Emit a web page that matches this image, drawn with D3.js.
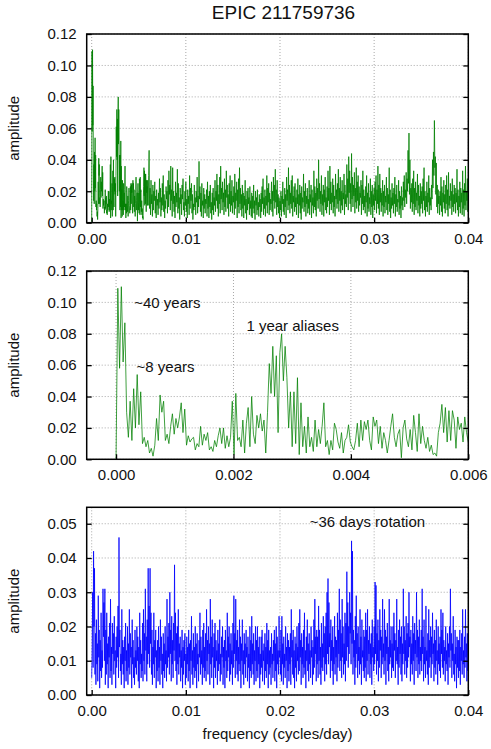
<!DOCTYPE html>
<html lang="en">
<head>
<meta charset="UTF-8">
<title>EPIC 211759736</title>
<script src="https://d3js.org/d3.v7.min.js"></script>
<style>
  body { margin: 0; background: #fff; }
  svg text { font-family: "Liberation Sans", Arial, Helvetica, sans-serif; fill: #111; }
</style>
</head>
<body>
<div id="container"></div>
<script>
const AMP_UNIT = 0.001;

// low-frequency part (0 .. 0.006 c/d), one value every 0.00003 c/d
const LOW_STEP = 0.00003;
const lowAmp = [
  0,109,58,110,62,87,30,14,37,12,
  45,20,54,22,43,10,14,8,12,4,
  7,2,9,26,12,41,30,37,12,16,
  10,21,29,16,26,20,27,36,17,32,
  9,15,11,13,14,6,10,8,21,9,
  16,12,17,6,8,5,12,8,15,20,
  10,20,7,15,8,14,37,3,42,12,
  14,8,25,4,23,33,8,40,16,10,
  28,20,29,18,25,4,30,61,42,72,
  40,66,17,68,80,50,72,52,20,43,
  8,43,10,52,3,36,8,21,4,27,
  8,14,5,25,8,19,10,21,36,8,
  12,3,12,6,23,19,11,7,17,4,
  12,14,22,11,8,6,12,23,8,25,
  12,24,19,25,12,6,27,21,25,10,
  21,7,17,12,4,12,21,29,14,8,
  16,19,1,20,25,13,8,19,6,28,
  17,5,29,10,21,12,7,14,5,9,
  3,4,2,17,23,35,17,33,11,31,
  12,31,25,7,27,19,23,11,27,17,11
];

// rest of the green spectrum (0.00605 .. 0.0400 c/d), one value every 0.00005 c/d
const HIGH_START = 0.00605;
const STEP = 0.00005;
const highAmp = [
  30,46,9,22,5,27,12,18,4,24,
  8,20,14,26,6,17,3,21,11,15,
  5,19,9,28,13,22,4,16,8,25,
  11,30,7,18,3,14,9,23,15,20,
  6,27,10,33,18,24,8,36,14,21,
  4,35,12,20,7,17,3,26,10,19,
  13,34,6,25,9,16,2,22,12,18,
  5,24,15,28,8,13,4,20,11,26,
  7,15,3,21,12,17,5,30,9,22,
  14,25,6,18,2,12,8,24,10,16,
  5,20,13,29,6,17,10,39,15,23,
  7,19,4,25,11,14,3,22,9,18,
  6,15,12,21,4,26,9,17,3,20,
  10,24,6,13,2,19,8,22,5,16,
  11,27,7,20,14,31,9,24,4,18,
  12,29,6,36,15,22,8,26,13,19,
  5,28,10,21,7,33,16,24,9,18,
  4,25,12,30,7,20,11,27,6,17,
  13,23,5,31,9,19,14,26,3,21,
  10,28,6,35,12,22,8,18,4,24,
  9,19,3,17,11,27,6,15,2,20,
  8,22,12,16,5,23,9,14,4,19,
  3,17,9,24,6,14,2,20,11,16,
  5,21,8,13,4,18,10,15,3,19,
  7,23,12,28,5,16,9,21,4,17,
  11,30,6,22,13,25,5,19,8,15,
  12,26,7,20,4,29,14,24,9,34,
  13,21,5,27,10,18,6,16,3,14,
  8,20,4,17,12,26,7,15,5,22,
  10,18,3,29,14,21,8,35,11,24,
  6,19,12,27,9,30,4,17,13,23,
  7,25,10,16,5,21,12,28,3,18,
  11,24,6,19,2,23,9,16,13,31,
  7,20,10,25,4,17,12,22,6,15,
  9,27,5,18,13,24,3,21,11,16,
  6,33,10,23,8,19,4,28,14,22,
  9,40,15,25,7,20,12,30,5,18,
  11,24,4,21,13,29,8,16,6,23,
  10,33,14,22,5,36,12,26,8,19,
  13,28,6,24,10,17,4,31,15,21,
  9,25,12,34,7,22,14,29,6,20,
  11,27,8,19,15,31,5,24,12,18,
  10,37,16,28,8,42,19,33,12,25,
  7,44,15,29,10,24,17,32,6,22,
  13,35,9,26,14,30,7,23,11,19,
  16,27,5,24,12,33,8,21,10,17,
  6,23,13,30,4,19,9,25,7,16,
  12,28,5,20,10,24,3,18,11,22,
  8,26,14,30,6,21,12,36,9,24,
  5,31,13,22,7,19,11,27,4,20,
  10,24,6,17,13,29,8,22,5,18,
  12,35,7,21,3,16,9,25,11,19,
  6,22,12,29,4,18,10,24,7,15,
  13,27,5,20,9,17,3,23,11,16,
  8,26,14,30,10,21,16,32,12,28,
  20,46,25,57,18,40,9,22,13,25,
  7,28,12,33,5,22,10,26,8,19,
  14,31,6,24,11,17,4,25,9,20,
  12,23,6,28,14,35,8,20,4,17,
  10,26,7,19,13,30,5,22,11,16,
  8,24,15,40,22,45,30,65,35,42,
  18,38,10,24,6,21,12,17,5,20,
  11,29,7,23,4,19,13,27,9,18,
  6,24,12,30,8,21,4,32,11,17,
  9,25,14,20,5,28,10,18,7,24,
  12,22,6,19,13,34,8,21,4,17,
  10,26,6,22,13,19,5,33,9,21,
  4,25,11,36,8,20,14,28,7,18
];

// blue spectrum (0 .. 0.04 c/d), one value every 0.00005 c/d
const rotAmp = [
  5,14,30,8,42,20,37,6,18,3,
  22,9,15,4,29,11,19,2,16,7,
  24,5,13,8,31,17,27,10,31,3,
  19,6,24,9,15,2,17,11,21,5,
  28,7,14,3,21,12,18,6,23,10,
  13,2,17,8,20,11,26,5,46,14,
  19,7,12,3,25,9,16,6,14,2,
  17,10,21,4,13,7,20,3,15,8,
  25,6,18,11,14,2,22,9,16,5,
  11,3,19,8,13,6,20,10,17,4,
  14,2,24,9,16,5,12,7,21,4,
  25,10,18,6,31,13,17,4,22,9,
  37,12,26,8,37,15,24,6,19,3,
  14,9,24,5,16,11,19,2,13,7,
  16,4,20,8,14,3,22,10,17,6,
  12,2,18,7,15,5,20,9,13,4,
  28,8,17,11,21,6,30,12,19,4,
  23,9,16,5,21,13,38,10,24,7,
  18,3,20,9,25,6,15,11,17,4,
  13,8,19,2,14,6,16,10,18,3,
  12,5,17,9,14,4,19,7,15,2,
  16,10,23,6,13,3,18,8,14,5,
  20,7,15,2,18,9,12,4,16,11,
  24,6,17,9,13,3,19,8,21,5,
  14,7,18,4,25,10,16,6,20,12,
  15,3,28,9,17,5,22,11,14,2,
  18,8,21,5,16,10,13,3,19,7,
  15,9,22,4,12,6,17,11,20,3,
  14,8,16,2,19,10,13,5,24,7,
  17,11,20,4,15,6,18,9,13,3,
  21,8,29,12,18,5,28,10,16,6,
  19,4,14,9,22,7,17,2,15,10,
  22,6,13,3,18,9,15,5,19,11,
  14,4,17,8,12,2,20,7,16,5,
  23,9,15,6,18,3,13,10,20,4,
  16,7,20,5,14,9,17,2,12,6,
  17,8,19,4,13,10,15,3,18,7,
  14,5,21,9,16,2,19,6,13,8,
  14,3,18,9,12,5,16,10,19,4,
  15,7,20,2,17,9,13,6,23,11,
  13,6,19,4,23,9,15,3,17,8,
  12,5,20,10,14,2,18,7,16,4,
  14,9,18,3,25,11,16,6,19,5,
  13,2,17,8,15,4,20,10,14,6,
  21,7,25,11,16,3,18,9,14,5,
  19,8,24,6,13,2,17,10,22,7,
  15,4,18,9,13,5,20,11,16,3,
  14,6,22,8,28,12,17,4,19,9,
  17,5,26,10,19,6,14,3,21,8,
  15,7,23,11,18,4,20,9,24,6,
  30,12,34,9,27,14,18,5,22,10,
  16,7,20,3,14,9,23,6,17,11,
  16,4,24,8,19,12,31,7,22,10,
  18,5,28,11,20,6,15,9,24,4,
  21,10,36,14,27,8,20,12,30,18,
  24,9,45,15,42,6,19,11,16,3,
  23,8,29,12,18,5,20,10,14,6,
  25,9,17,3,22,11,13,7,19,5,
  17,8,24,4,19,10,25,6,16,12,
  20,5,15,9,18,3,22,11,14,7,
  20,9,33,12,32,6,18,10,22,4,
  16,8,25,13,19,5,17,9,28,11,
  15,6,25,10,19,3,17,12,21,7,
  14,4,28,9,16,11,20,5,15,8,
  20,7,24,13,18,5,16,10,28,9,
  14,3,19,8,22,12,17,6,20,4,
  15,9,31,12,20,6,16,10,23,5,
  18,8,21,11,30,14,17,4,19,9,
  15,6,23,10,18,3,21,12,16,7,
  30,11,19,5,17,9,22,6,14,10,
  19,7,31,12,17,4,22,9,14,5,
  26,10,13,6,18,3,25,8,16,11,
  20,5,17,9,24,12,15,4,19,8,
  16,6,22,10,13,3,20,9,15,7,
  17,5,25,12,19,8,24,6,16,10,
  14,4,20,9,13,7,18,3,15,11,
  20,8,31,13,18,5,15,10,23,6,
  12,4,19,9,14,2,17,8,16,5,
  16,7,19,3,14,10,18,6,25,9,
  13,5,17,8,25,11,15,4,18,7,
  11
];

const wideTicks = [0, 0.01, 0.02, 0.03, 0.04];
const zoomTicks = [0, 0.002, 0.004, 0.006];
const ampTicks = [0, 0.02, 0.04, 0.06, 0.08, 0.10, 0.12];
const rotTicks = [0, 0.01, 0.02, 0.03, 0.04, 0.05];

const lowSeries = lowAmp.map((a, i) => ({ f: i * LOW_STEP, a: a * AMP_UNIT }));
const highSeries = highAmp.map((a, i) => ({ f: HIGH_START + i * STEP, a: a * AMP_UNIT }));
const rotSeries = rotAmp.map((a, i) => ({ f: i * STEP, a: a * AMP_UNIT }));

const width = 491, height = 749;
const left = 86.7, right = 468.3;

const svg = d3.select("#container").append("svg")
  .attr("width", width)
  .attr("height", height);

svg.append("text")
  .attr("x", 283.5)
  .attr("y", 18.5)
  .attr("text-anchor", "middle")
  .style("font-size", "19px")
  .text("EPIC 211759736");

function drawPanel(p, idx) {
  const x = d3.scaleLinear().domain(p.xDomain).range([left, right]);
  const y = d3.scaleLinear().domain(p.yDomain).range([p.bottom, p.top]);
  const g = svg.append("g");

  // dotted grid
  g.selectAll(".gx").data(p.xTicks).join("line")
    .attr("x1", d => x(d)).attr("x2", d => x(d))
    .attr("y1", p.top).attr("y2", p.bottom)
    .attr("stroke", "#a8a8a8").attr("stroke-dasharray", "1,2");
  g.selectAll(".gy").data(p.yTicks).join("line")
    .attr("x1", left).attr("x2", right)
    .attr("y1", d => y(d)).attr("y2", d => y(d))
    .attr("stroke", "#a8a8a8").attr("stroke-dasharray", "1,2");

  svg.append("clipPath").attr("id", "clip" + idx)
    .append("rect")
    .attr("x", left).attr("y", p.top)
    .attr("width", right - left).attr("height", p.bottom - p.top);

  const line = d3.line().x(d => x(d.f)).y(d => y(d.a));
  g.append("path")
    .datum(p.series)
    .attr("clip-path", `url(#clip${idx})`)
    .attr("fill", "none")
    .attr("stroke", p.color)
    .attr("stroke-opacity", p.opacity)
    .attr("stroke-width", p.lineWidth)
    .attr("stroke-linejoin", "round")
    .attr("d", line);

  // axes with inward ticks
  const ax = g.append("g").attr("transform", `translate(${left},0)`)
    .call(d3.axisLeft(y).tickValues(p.yTicks).tickFormat(d3.format(".2f")).tickSize(-5).tickPadding(10));
  const axr = g.append("g").attr("transform", `translate(${right},0)`)
    .call(d3.axisRight(y).tickValues(p.yTicks).tickFormat("").tickSize(-5));
  const axb = g.append("g").attr("transform", `translate(0,${p.bottom})`)
    .call(d3.axisBottom(x).tickValues(p.xTicks).tickFormat(d3.format(p.xFormat)).tickSize(-5).tickPadding(10.5));
  [ax, axr, axb].forEach(a => {
    a.select(".domain").remove();
    a.selectAll(".tick line").attr("stroke", "#000").attr("stroke-width", 1.3);
    a.selectAll("text").style("font-size", "15px").attr("fill", "#111");
  });

  g.append("rect")
    .attr("x", left).attr("y", p.top)
    .attr("width", right - left).attr("height", p.bottom - p.top)
    .attr("fill", "none").attr("stroke", "#000").attr("stroke-width", 1.5);

  g.append("text")
    .attr("transform", `translate(19,${(p.top + p.bottom) / 2}) rotate(-90)`)
    .attr("text-anchor", "middle")
    .style("font-size", "15px")
    .text("amplitude");

  (p.notes || []).forEach(n => {
    g.append("text")
      .attr("x", x(n.f)).attr("y", y(n.a))
      .style("font-size", "15px")
      .text(n.text);
  });
}

const panels = [
  { top: 34, bottom: 222.7, xDomain: [-0.00053, 0.04], yDomain: [0, 0.12],
    xTicks: wideTicks, yTicks: ampTicks, xFormat: ".2f",
    series: lowSeries.concat(highSeries), color: "#008000", opacity: 1, lineWidth: 0.8 },
  { top: 271, bottom: 459.3, xDomain: [-0.0005, 0.006], yDomain: [0, 0.12],
    xTicks: zoomTicks, yTicks: ampTicks, xFormat: ".3f",
    series: lowSeries, color: "#008000", opacity: 0.75, lineWidth: 1,
    notes: [
      { f: 0.00031, a: 0.0965, text: "~40 years" },
      { f: 0.00035, a: 0.0555, text: "~8 years" },
      { f: 0.00222, a: 0.0815, text: "1 year aliases" }
    ] },
  { top: 507.3, bottom: 695, xDomain: [-0.00053, 0.04], yDomain: [0, 0.0548],
    xTicks: wideTicks, yTicks: rotTicks, xFormat: ".2f",
    series: rotSeries, color: "#0000ff", opacity: 1, lineWidth: 0.8,
    notes: [
      { f: 0.02315, a: 0.0490, text: "~36 days rotation" }
    ] }
];

panels.forEach(drawPanel);

svg.append("text")
  .attr("x", 277.5)
  .attr("y", 739)
  .attr("text-anchor", "middle")
  .style("font-size", "15px")
  .text("frequency (cycles/day)");
</script>
</body>
</html>
